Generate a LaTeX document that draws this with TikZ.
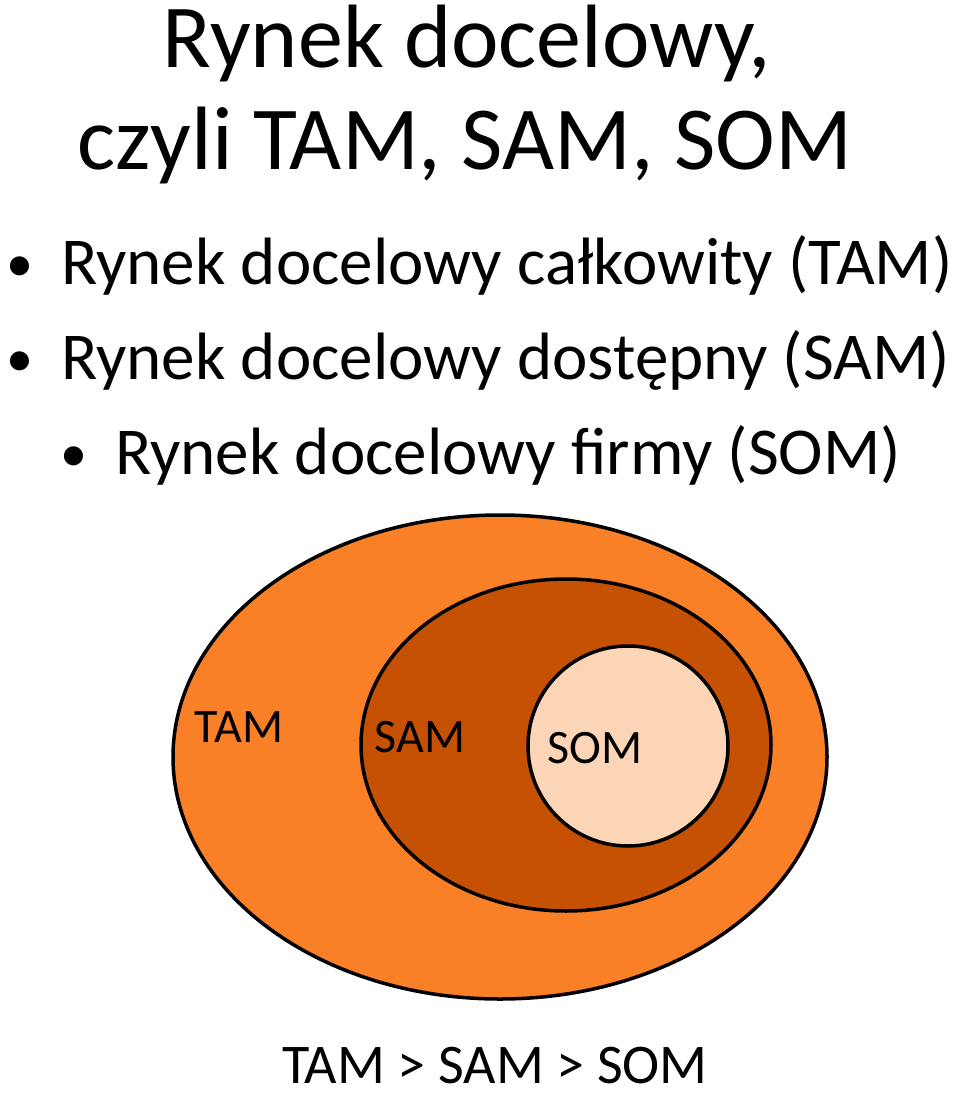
\documentclass[tikz,border=0pt]{standalone}
\usepackage{fontspec}
\setmainfont{Carlito}
\definecolor{tamc}{HTML}{F98026}
\definecolor{samc}{HTML}{C65103}
\definecolor{somc}{HTML}{FBD5B5}
\newcommand{\smbul}{\raisebox{3pt}{\fontsize{54}{54}\selectfont\textbullet}}
\begin{document}
\begin{tikzpicture}[x=1pt,y=-1pt,
  lbl/.style={font=\fontsize{48}{52}\selectfont},
  bul/.style={anchor=west,font=\fontsize{67}{72}\selectfont,inner sep=0pt},
  ring/.style={draw=black,line width=3.5pt}]
\useasboundingbox (0,0) rectangle (960,1095);
\node[font=\fontsize{90}{96}\selectfont,inner sep=0pt] (t1) at (467,44) {Rynek docelowy,};
\node[font=\fontsize{90}{96}\selectfont,inner sep=0pt] (t2) at (465,146) {czyli TAM, SAM, SOM};
\node[bul] (b1) at (6,265) {\smbul\hspace{28pt}Rynek docelowy całkowity (TAM)};
\node[bul] (b2) at (6,360) {\smbul\hspace{28pt}Rynek docelowy dostępny (SAM)};
\node[bul] (b3) at (60,455) {\smbul\hspace{28pt}Rynek docelowy firmy (SOM)};
\draw[ring,fill=tamc] (500,757) ellipse [x radius=327,y radius=242];
\draw[ring,fill=samc] (566,745) ellipse [x radius=205,y radius=166];
\draw[ring,fill=somc] (628,746) circle [radius=100];
\node[lbl] (tam) at (239,727) {TAM};
\node[lbl] (sam) at (420,737) {SAM};
\node[lbl] (som) at (595,748) {SOM};
\node[font=\fontsize{56}{60}\selectfont,inner sep=0pt] (cmp) at (495,1066) {TAM > SAM > SOM};
\end{tikzpicture}
\end{document}
